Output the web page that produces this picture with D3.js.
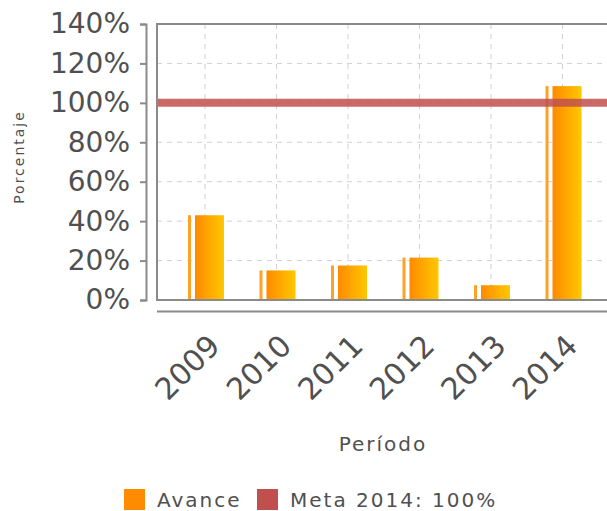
<!DOCTYPE html>
<html lang="es">
<head>
    <meta charset="UTF-8">
    <title>Avance</title>
    <script src="https://d3js.org/d3.v7.min.js"></script>
    <style>
        body { margin: 0; background: #fff; }
        text { font-family: "DejaVu Sans", Verdana, sans-serif; fill: #505050; }
        .grid line { stroke: #d0d0d0; stroke-dasharray: 5,5; stroke-width: 1px; }
        .frame { stroke: #8a8a8a; stroke-width: 2px; fill: none; }
        .yaxis path, .yaxis line { stroke: #8a8a8a; stroke-width: 2px; }
    </style>
</head>
<body>
    <svg width="607" height="511"></svg>

    <script>
        // chart data
        const years = ["2009", "2010", "2011", "2012", "2013", "2014"];
        const avance = [43, 15, 17.5, 21.5, 7.5, 108.5];
        const yTicks = [0, 20, 40, 60, 80, 100, 120, 140];
        const meta = 100;
        const legendLabels = ["Avance", "Meta 2014: 100%"];

        const svg = d3.select("svg");

        const plotLeft = 157, plotTop = 24, plotBottom = 300, plotRight = 620;

        const y = d3.scaleLinear().domain([0, 140]).range([plotBottom, plotTop]);
        const x = d3.scaleBand().domain(years).range([169.25, 598.25]);
        const cx = d => x(d) + x.bandwidth() / 2;

        const defs = svg.append("defs");
        const grad = defs.append("linearGradient").attr("id", "barGrad")
            .attr("x1", "0%").attr("x2", "100%").attr("y1", "0%").attr("y2", "0%");
        grad.append("stop").attr("offset", "0%").attr("stop-color", "#ff8a00");
        grad.append("stop").attr("offset", "100%").attr("stop-color", "#ffc800");

        // gridlines
        const grid = svg.append("g").attr("class", "grid");
        grid.selectAll(".h")
            .data(yTicks.slice(1))
            .enter().append("line")
            .attr("x1", plotLeft).attr("x2", plotRight)
            .attr("y1", d => y(d)).attr("y2", d => y(d));
        grid.selectAll(".v")
            .data(years)
            .enter().append("line")
            .attr("x1", cx).attr("x2", cx)
            .attr("y1", plotTop).attr("y2", plotBottom);

        // bars: thin stripe + main body
        const bw = 36;
        const bars = svg.append("g").selectAll("g")
            .data(years)
            .enter().append("g")
            .attr("transform", d => `translate(${cx(d) + 1 - bw / 2},0)`);

        bars.append("rect")
            .attr("x", 0)
            .attr("width", 3)
            .attr("y", (d, i) => y(avance[i]))
            .attr("height", (d, i) => plotBottom - y(avance[i]))
            .attr("fill", "#ffa126");

        bars.append("rect")
            .attr("x", 7)
            .attr("width", bw - 7)
            .attr("y", (d, i) => y(avance[i]))
            .attr("height", (d, i) => plotBottom - y(avance[i]))
            .attr("fill", "url(#barGrad)");

        // meta line
        svg.append("line")
            .attr("x1", plotLeft).attr("x2", 607)
            .attr("y1", y(meta)).attr("y2", y(meta))
            .attr("stroke", "#c0504d")
            .attr("stroke-opacity", 0.85)
            .attr("stroke-width", 8);

        // plot frame
        svg.append("path").attr("class", "frame")
            .attr("d", `M${plotRight},${plotTop}H${plotLeft}V${plotBottom}H${plotRight}`);
        svg.append("line").attr("class", "frame")
            .attr("x1", plotLeft).attr("x2", plotRight)
            .attr("y1", 311.5).attr("y2", 311.5);

        // y axis
        const yAxis = svg.append("g").attr("class", "yaxis")
            .attr("transform", "translate(146,0)")
            .call(d3.axisLeft(y).tickValues(yTicks).tickSizeOuter(6).tickSize(6).tickPadding(10)
                .tickFormat(d => d + "%"));
        yAxis.selectAll("text")
            .style("font-size", "28px")
            .style("font-family", "'DejaVu Sans', Verdana, sans-serif")
            .attr("fill", "#505050");

        // x labels
        svg.append("g").selectAll("text")
            .data(years)
            .enter().append("text")
            .attr("transform", d => `translate(${cx(d) + 2},333) rotate(-45)`)
            .attr("text-anchor", "end")
            .attr("dy", "0.7em")
            .style("font-size", "30px")
            .text(d => d);

        // axis titles
        svg.append("text")
            .attr("x", 383).attr("y", 451)
            .attr("text-anchor", "middle")
            .style("font-size", "20px")
            .style("letter-spacing", "2px")
            .text("Período");

        svg.append("text")
            .attr("transform", "translate(24,157) rotate(-90)")
            .attr("text-anchor", "middle")
            .style("font-size", "14px")
            .style("letter-spacing", "2px")
            .text("Porcentaje");

        // legend
        const legendColors = ["#ff8c00", "#c0504d"];
        const legendX = [124, 257];
        const lg = svg.append("g").selectAll("g")
            .data(legendLabels)
            .enter().append("g")
            .attr("transform", (d, i) => `translate(${legendX[i]},489)`);
        lg.append("rect")
            .attr("width", 21).attr("height", 21)
            .attr("fill", (d, i) => legendColors[i]);
        lg.append("text")
            .attr("x", 33).attr("y", 18)
            .style("font-size", "20px")
            .style("letter-spacing", "2px")
            .text(d => d);
    </script>
</body>
</html>
